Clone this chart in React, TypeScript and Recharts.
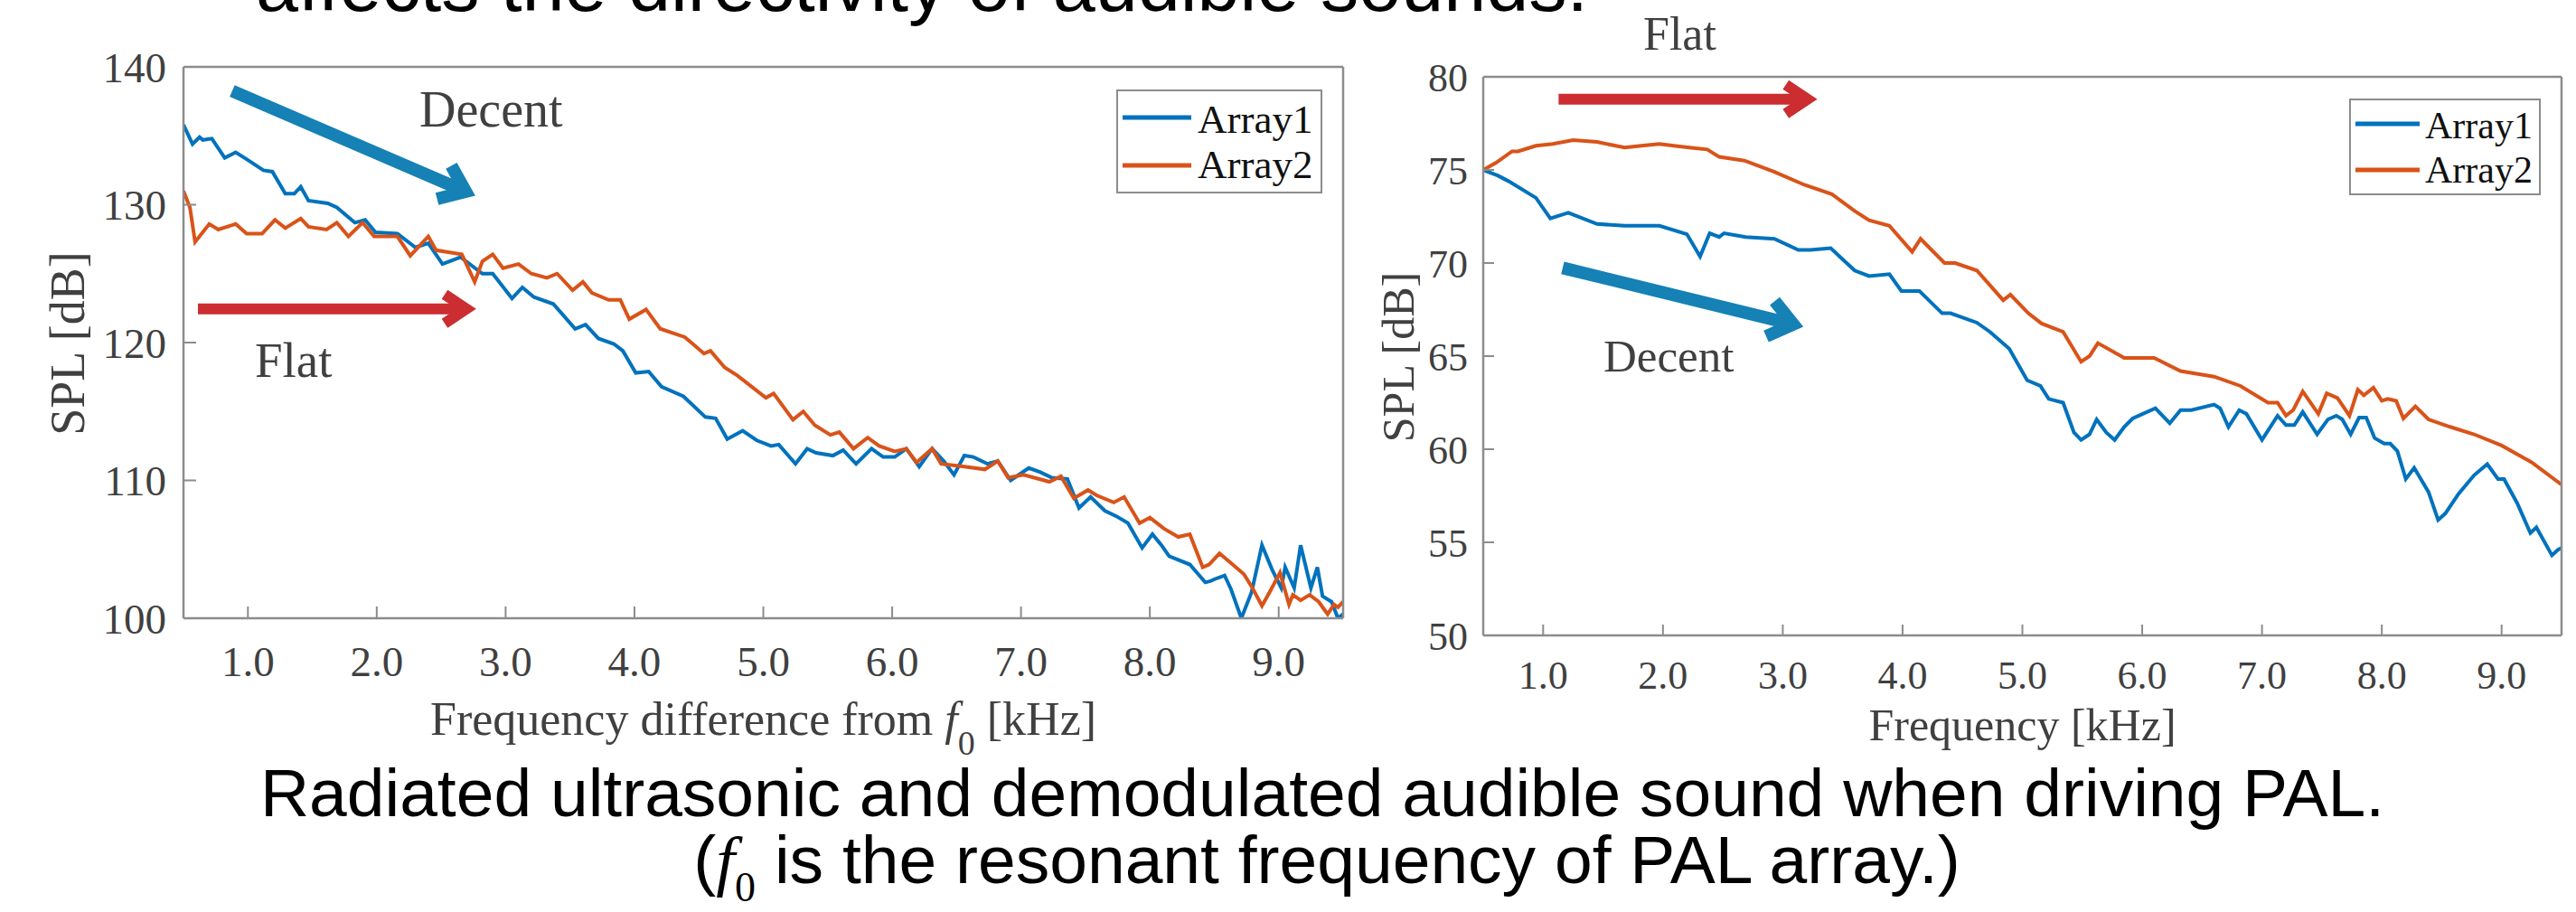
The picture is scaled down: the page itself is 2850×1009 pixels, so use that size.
import React from 'react';
import { LineChart, Line, XAxis, YAxis, ReferenceLine, Legend } from 'recharts';

// ---------- data ----------
const xTicks = [1, 2, 3, 4, 5, 6, 7, 8, 9];
const leftYTicks = [100, 110, 120, 130, 140];
const rightYTicks = [50, 55, 60, 65, 70, 75, 80];
const seriesNames = ['Array1', 'Array2'];

// Left panel: ultrasonic SPL vs frequency difference from f0
const leftArray1Freq = [0.5, 0.57, 0.625, 0.65, 0.72, 0.82, 0.905, 0.99, 1.12, 1.19, 1.29, 1.36, 1.41, 1.47, 1.62, 1.69, 1.83, 1.91, 1.99, 2.16, 2.3, 2.4, 2.51, 2.65, 2.82, 2.9, 3.05, 3.13, 3.22, 3.37, 3.54, 3.62, 3.72, 3.84, 3.91, 4.01, 4.11, 4.21, 4.38, 4.55, 4.63, 4.72, 4.84, 4.95, 5.06, 5.12, 5.25, 5.34, 5.41, 5.54, 5.62, 5.72, 5.84, 5.93, 6.02, 6.11, 6.21, 6.31, 6.4, 6.48, 6.56, 6.63, 6.74, 6.82, 6.92, 7.06, 7.15, 7.24, 7.36, 7.45, 7.54, 7.65, 7.74, 7.83, 7.94, 8.02, 8.09, 8.15, 8.31, 8.43, 8.47, 8.52, 8.58, 8.63, 8.71, 8.79, 8.87, 8.95, 9.02, 9.05, 9.12, 9.17, 9.25, 9.3, 9.34, 9.41, 9.46, 9.5];
const leftArray1SPL = [135.8, 134.4, 134.9, 134.7, 134.8, 133.4, 133.8, 133.3, 132.5, 132.4, 130.8, 130.8, 131.3, 130.3, 130.1, 129.8, 128.7, 128.9, 128.0, 127.9, 126.9, 127.2, 125.7, 126.2, 125.0, 125.0, 123.2, 124.0, 123.3, 122.8, 121.0, 121.3, 120.3, 119.9, 119.4, 117.8, 117.9, 116.8, 116.1, 114.6, 114.5, 113.0, 113.6, 112.9, 112.5, 112.6, 111.2, 112.3, 112.0, 111.8, 112.2, 111.2, 112.3, 111.7, 111.7, 112.3, 111.0, 112.3, 111.4, 110.4, 111.8, 111.7, 111.2, 111.4, 110.0, 110.9, 110.6, 110.2, 110.1, 108.0, 108.8, 107.8, 107.4, 106.9, 105.1, 106.1, 105.3, 104.5, 103.9, 102.6, 102.7, 102.9, 103.1, 102.1, 100.0, 101.9, 105.3, 103.5, 102.2, 103.7, 102.2, 105.3, 102.2, 103.7, 101.6, 101.2, 100.0, 100.3];
const leftArray2Freq = [0.5, 0.55, 0.59, 0.7, 0.77, 0.905, 0.99, 1.11, 1.21, 1.29, 1.41, 1.47, 1.61, 1.69, 1.78, 1.89, 1.98, 2.16, 2.26, 2.4, 2.46, 2.66, 2.76, 2.82, 2.9, 2.98, 3.1, 3.2, 3.32, 3.4, 3.52, 3.6, 3.67, 3.8, 3.89, 3.96, 4.09, 4.2, 4.39, 4.54, 4.59, 4.7, 4.8, 5.02, 5.08, 5.23, 5.31, 5.4, 5.52, 5.59, 5.7, 5.81, 5.9, 6.02, 6.11, 6.19, 6.31, 6.38, 6.56, 6.72, 6.82, 6.9, 7.02, 7.22, 7.31, 7.41, 7.52, 7.59, 7.72, 7.8, 7.92, 8.0, 8.11, 8.22, 8.31, 8.41, 8.46, 8.54, 8.63, 8.73, 8.79, 8.87, 8.93, 9.01, 9.08, 9.11, 9.17, 9.24, 9.31, 9.38, 9.43, 9.46, 9.5];
const leftArray2SPL = [131.0, 129.8, 127.3, 128.6, 128.2, 128.6, 127.9, 127.9, 128.9, 128.3, 129.0, 128.4, 128.2, 128.7, 127.7, 128.7, 127.7, 127.7, 126.3, 127.7, 126.7, 126.4, 124.4, 125.9, 126.4, 125.4, 125.7, 125.0, 124.7, 125.0, 123.8, 124.4, 123.6, 123.1, 123.1, 121.7, 122.4, 121.0, 120.4, 119.2, 119.4, 118.2, 117.6, 116.0, 116.3, 114.4, 115.0, 114.0, 113.3, 113.5, 112.3, 113.1, 112.5, 112.1, 112.3, 111.3, 112.3, 111.2, 111.0, 110.8, 111.4, 110.2, 110.4, 109.9, 110.3, 108.7, 109.3, 108.9, 108.4, 108.8, 106.9, 107.3, 106.5, 105.9, 106.1, 103.7, 103.9, 104.7, 104.0, 103.2, 102.3, 100.9, 101.9, 103.3, 101.0, 101.7, 101.3, 101.7, 101.2, 100.3, 101.0, 100.8, 101.2];

// Right panel: demodulated audible SPL vs frequency
const rightArray1Freq = [0.5, 0.62, 0.71, 0.94, 1.06, 1.21, 1.45, 1.68, 1.97, 2.2, 2.31, 2.39, 2.47, 2.51, 2.69, 2.93, 3.13, 3.23, 3.4, 3.6, 3.72, 3.89, 3.99, 4.14, 4.33, 4.4, 4.62, 4.73, 4.89, 5.04, 5.15, 5.22, 5.34, 5.43, 5.49, 5.56, 5.62, 5.7, 5.77, 5.85, 5.92, 6.11, 6.23, 6.32, 6.41, 6.6, 6.65, 6.72, 6.81, 6.87, 7.0, 7.13, 7.2, 7.27, 7.34, 7.46, 7.55, 7.62, 7.67, 7.74, 7.81, 7.87, 7.94, 8.02, 8.07, 8.13, 8.2, 8.27, 8.39, 8.47, 8.53, 8.64, 8.77, 8.88, 8.97, 9.02, 9.13, 9.24, 9.29, 9.42, 9.47, 9.5];
const rightArray1SPL = [75.0, 74.7, 74.4, 73.5, 72.4, 72.7, 72.1, 72.0, 72.0, 71.55, 70.35, 71.6, 71.4, 71.6, 71.4, 71.3, 70.7, 70.7, 70.8, 69.6, 69.3, 69.4, 68.5, 68.5, 67.3, 67.3, 66.8, 66.3, 65.4, 63.7, 63.4, 62.7, 62.5, 60.9, 60.5, 60.8, 61.6, 60.9, 60.5, 61.2, 61.65, 62.2, 61.4, 62.1, 62.1, 62.4, 62.2, 61.2, 62.1, 61.9, 60.5, 61.8, 61.3, 61.3, 62.0, 60.8, 61.6, 61.8, 61.6, 60.8, 61.7, 61.7, 60.6, 60.3, 60.3, 59.9, 58.4, 59.0, 57.7, 56.2, 56.55, 57.6, 58.6, 59.2, 58.4, 58.4, 57.1, 55.5, 55.8, 54.3, 54.6, 54.7];
const rightArray2Freq = [0.5, 0.61, 0.74, 0.79, 0.94, 1.08, 1.25, 1.45, 1.68, 1.82, 1.97, 2.09, 2.22, 2.37, 2.47, 2.68, 2.93, 3.18, 3.41, 3.6, 3.72, 3.89, 4.08, 4.15, 4.35, 4.44, 4.62, 4.84, 4.9, 5.05, 5.16, 5.34, 5.49, 5.56, 5.63, 5.85, 6.1, 6.32, 6.6, 6.82, 7.05, 7.13, 7.2, 7.26, 7.34, 7.47, 7.54, 7.63, 7.73, 7.8, 7.85, 7.93, 8.0, 8.05, 8.12, 8.18, 8.28, 8.39, 8.57, 8.77, 9.0, 9.25, 9.5];
const rightArray2SPL = [75.0, 75.4, 76.0, 76.0, 76.3, 76.4, 76.6, 76.5, 76.2, 76.3, 76.4, 76.3, 76.2, 76.1, 75.7, 75.5, 74.9, 74.2, 73.7, 72.8, 72.3, 72.0, 70.6, 71.3, 70.0, 70.0, 69.6, 68.0, 68.3, 67.3, 66.75, 66.3, 64.7, 65.0, 65.7, 64.9, 64.9, 64.2, 63.9, 63.4, 62.5, 62.5, 61.8, 62.1, 63.1, 61.9, 63.0, 62.75, 61.8, 63.2, 62.9, 63.3, 62.6, 62.7, 62.6, 61.65, 62.3, 61.6, 61.2, 60.8, 60.2, 59.3, 58.1];

// Annotation arrows (data coordinates: [freq, SPL] start -> tip)
const leftDecentArrow = [[0.878, 138.25], [2.763, 130.66]];
const leftFlatArrow = [[0.612, 122.44], [2.763, 122.44]];
const rightFlatArrow = [[1.129, 78.8], [3.279, 78.8]];
const rightDecentArrow = [[1.163, 69.74], [3.17, 66.58]];

// ---------- styling ----------
const BLUE = '#0072BD';
const ORANGE = '#D95319';
const ARROW_BLUE = '#1581B5';
const ARROW_RED = '#CB2D30';
const AXIS = '#8c8c8c';
const TXT = '#404040';
const SERIF = '"Liberation Serif", "Times New Roman", serif';
const SANS = '"Liberation Sans", Arial, sans-serif';

const zip = (f: number[], v: number[]) => f.map((x, i) => ({ f: x, spl: v[i] }));
const seg = (a: number[][]) => [{ x: a[0][0], y: a[0][1] }, { x: a[1][0], y: a[1][1] }];
const fmt = (v: number) => v.toFixed(1);

const makeArrow = (back: number, half: number) => (props: any) => {
  const { x1, y1, x2, y2, stroke, strokeWidth } = props;
  if ([x1, y1, x2, y2].some((n) => typeof n !== 'number' || isNaN(n))) return null;
  const dx = x2 - x1;
  const dy = y2 - y1;
  const len = Math.sqrt(dx * dx + dy * dy) || 1;
  const ux = dx / len;
  const uy = dy / len;
  const nx = -uy;
  const ny = ux;
  const ax = x2 - ux * strokeWidth * 0.8;
  const ay = y2 - uy * strokeWidth * 0.8;
  const bx = ax - ux * back;
  const by = ay - uy * back;
  return (
    <g>
      <line x1={x1} y1={y1} x2={ax - ux * 3} y2={ay - uy * 3} stroke={stroke} strokeWidth={strokeWidth} />
      <polyline
        points={`${bx + nx * half},${by + ny * half} ${ax},${ay} ${bx - nx * half},${by - ny * half}`}
        fill="none"
        stroke={stroke}
        strokeWidth={strokeWidth}
        strokeLinejoin="miter"
        strokeMiterlimit={10}
      />
    </g>
  );
};

type LegendCfg = { w: number; h: number; lx1: number; lx2: number; tx: number; rows: number[]; base: number[]; fs: number };
const makeLegend = (cfg: LegendCfg) => (props: any) => {
  const payload = props.payload || [];
  return (
    <svg width={cfg.w} height={cfg.h} style={{ display: 'block' }}>
      <rect x={1} y={1} width={cfg.w - 2} height={cfg.h - 2} fill="#ffffff" stroke={AXIS} strokeWidth={2} />
      {payload.map((p: any, i: number) => (
        <g key={i}>
          <line x1={cfg.lx1} x2={cfg.lx2} y1={cfg.rows[i]} y2={cfg.rows[i]} stroke={p.color} strokeWidth={5} />
          <text x={cfg.tx} y={cfg.base[i]} fontFamily={SERIF} fontSize={cfg.fs} fill="#111">
            {p.value}
          </text>
        </g>
      ))}
    </svg>
  );
};

function LeftChart() {
  return (
    <div style={{ position: 'absolute', left: 0, top: 0 }}>
      <LineChart width={1500} height={1009} margin={{ top: 73, right: 13, bottom: 225, left: 0 }}>
        <XAxis
          dataKey="f"
          type="number"
          domain={[0.5, 9.5]}
          ticks={xTicks}
          tickFormatter={fmt}
          allowDataOverflow
          height={100}
          tickSize={-13}
          tickMargin={44}
          axisLine={{ stroke: AXIS, strokeWidth: 2.5 }}
          tickLine={{ stroke: AXIS, strokeWidth: 2 }}
          tick={{ fill: TXT, fontSize: 47, fontFamily: SERIF }}
        />
        <XAxis
          xAxisId="top"
          orientation="top"
          dataKey="f"
          type="number"
          domain={[0.5, 9.5]}
          ticks={xTicks}
          allowDataOverflow
          height={1}
          tickSize={-13}
          tick={false}
          axisLine={{ stroke: AXIS, strokeWidth: 2.5 }}
          tickLine={{ stroke: AXIS, strokeWidth: 2 }}
        />
        <YAxis
          type="number"
          domain={[100, 140]}
          ticks={leftYTicks}
          allowDataOverflow
          width={203}
          tickSize={-14}
          tickMargin={33}
          axisLine={{ stroke: AXIS, strokeWidth: 2.5 }}
          tickLine={{ stroke: AXIS, strokeWidth: 2 }}
          tick={{ fill: TXT, fontSize: 47, fontFamily: SERIF }}
        />
        <YAxis
          yAxisId="right"
          orientation="right"
          type="number"
          domain={[100, 140]}
          ticks={leftYTicks}
          allowDataOverflow
          width={1}
          tickSize={-14}
          tick={false}
          axisLine={{ stroke: AXIS, strokeWidth: 2.5 }}
          tickLine={{ stroke: AXIS, strokeWidth: 2 }}
        />
        <Line data={zip(leftArray1Freq, leftArray1SPL)} dataKey="spl" name={seriesNames[0]} stroke={BLUE} strokeWidth={4} dot={false} activeDot={false} type="linear" isAnimationActive={false} />
        <Line data={zip(leftArray2Freq, leftArray2SPL)} dataKey="spl" name={seriesNames[1]} stroke={ORANGE} strokeWidth={4} dot={false} activeDot={false} type="linear" isAnimationActive={false} />
        <ReferenceLine segment={seg(leftDecentArrow)} stroke={ARROW_BLUE} strokeWidth={14} ifOverflow="visible" shape={makeArrow(26, 20)} />
        <ReferenceLine segment={seg(leftFlatArrow)} stroke={ARROW_RED} strokeWidth={12} ifOverflow="visible" shape={makeArrow(24, 16)} />
        <Legend
          layout="vertical"
          align="center"
          verticalAlign="middle"
          wrapperStyle={{ position: 'absolute', left: 1235, top: 99, width: 228, height: 115 }}
          content={makeLegend({ w: 228, h: 115, lx1: 7, lx2: 83, tx: 90, rows: [31, 84], base: [48, 98], fs: 45 })}
        />
      </LineChart>
    </div>
  );
}

function RightChart() {
  return (
    <div style={{ position: 'absolute', left: 1500, top: 0 }}>
      <LineChart width={1350} height={1009} margin={{ top: 84, right: 15, bottom: 206, left: 0 }}>
        <XAxis
          dataKey="f"
          type="number"
          domain={[0.5, 9.5]}
          ticks={xTicks}
          tickFormatter={fmt}
          allowDataOverflow
          height={100}
          tickSize={-12}
          tickMargin={40}
          axisLine={{ stroke: AXIS, strokeWidth: 2.5 }}
          tickLine={{ stroke: AXIS, strokeWidth: 2 }}
          tick={{ fill: TXT, fontSize: 44, fontFamily: SERIF }}
        />
        <XAxis
          xAxisId="top"
          orientation="top"
          dataKey="f"
          type="number"
          domain={[0.5, 9.5]}
          ticks={xTicks}
          allowDataOverflow
          height={1}
          tickSize={-12}
          tick={false}
          axisLine={{ stroke: AXIS, strokeWidth: 2.5 }}
          tickLine={{ stroke: AXIS, strokeWidth: 2 }}
        />
        <YAxis
          type="number"
          domain={[50, 80]}
          ticks={rightYTicks}
          allowDataOverflow
          width={141}
          tickSize={-12}
          tickMargin={29}
          axisLine={{ stroke: AXIS, strokeWidth: 2.5 }}
          tickLine={{ stroke: AXIS, strokeWidth: 2 }}
          tick={{ fill: TXT, fontSize: 44, fontFamily: SERIF }}
        />
        <YAxis
          yAxisId="right"
          orientation="right"
          type="number"
          domain={[50, 80]}
          ticks={rightYTicks}
          allowDataOverflow
          width={1}
          tickSize={-12}
          tick={false}
          axisLine={{ stroke: AXIS, strokeWidth: 2.5 }}
          tickLine={{ stroke: AXIS, strokeWidth: 2 }}
        />
        <Line data={zip(rightArray1Freq, rightArray1SPL)} dataKey="spl" name={seriesNames[0]} stroke={BLUE} strokeWidth={4} dot={false} activeDot={false} type="linear" isAnimationActive={false} />
        <Line data={zip(rightArray2Freq, rightArray2SPL)} dataKey="spl" name={seriesNames[1]} stroke={ORANGE} strokeWidth={4} dot={false} activeDot={false} type="linear" isAnimationActive={false} />
        <ReferenceLine segment={seg(rightFlatArrow)} stroke={ARROW_RED} strokeWidth={12} ifOverflow="visible" shape={makeArrow(24, 16)} />
        <ReferenceLine segment={seg(rightDecentArrow)} stroke={ARROW_BLUE} strokeWidth={14} ifOverflow="visible" shape={makeArrow(26, 20)} />
        <Legend
          layout="vertical"
          align="center"
          verticalAlign="middle"
          wrapperStyle={{ position: 'absolute', left: 1099, top: 109, width: 212, height: 107 }}
          content={makeLegend({ w: 212, h: 107, lx1: 7, lx2: 78, tx: 84, rows: [28, 79], base: [44, 93], fs: 42 })}
        />
      </LineChart>
    </div>
  );
}

function Overlay() {
  return (
    <svg width={2850} height={1009} style={{ position: 'absolute', left: 0, top: 0, pointerEvents: 'none' }}>
      {/* cut-off heading line from the slide */}
      <text x={283} y={12} fontFamily={SANS} fontSize={84} fill="#000" textLength={1474} lengthAdjust="spacingAndGlyphs">
        affects the directivity of audible sounds.
      </text>
      {/* left panel annotations */}
      <text x={464} y={140} fontFamily={SERIF} fontSize={56} fill={TXT}>Decent</text>
      <text x={282} y={417} fontFamily={SERIF} fontSize={55} fill={TXT}>Flat</text>
      {/* right panel annotations */}
      <text x={1818} y={55} fontFamily={SERIF} fontSize={52} fill={TXT}>Flat</text>
      <text x={1774} y={411} fontFamily={SERIF} fontSize={51} fill={TXT}>Decent</text>
      {/* axis titles */}
      <text x={844.5} y={812.5} textAnchor="middle" fontFamily={SERIF} fontSize={52} fill={TXT}>
        Frequency difference from <tspan fontStyle="italic">f</tspan>
        <tspan fontSize={38} dy={22}>0</tspan>
        <tspan dy={-22}> [kHz]</tspan>
      </text>
      <text x={2237.5} y={819} textAnchor="middle" fontFamily={SERIF} fontSize={50} fill={TXT}>Frequency [kHz]</text>
      <text transform="translate(93,380) rotate(-90)" textAnchor="middle" fontFamily={SERIF} fontSize={54} fill={TXT}>SPL [dB]</text>
      <text transform="translate(1564,395) rotate(-90)" textAnchor="middle" fontFamily={SERIF} fontSize={50} fill={TXT}>SPL [dB]</text>
      {/* caption */}
      <text x={1463} y={903} textAnchor="middle" fontFamily={SANS} fontSize={75} fill="#000">
        Radiated ultrasonic and demodulated audible sound when driving PAL.
      </text>
      <text x={1468} y={977} textAnchor="middle" fontFamily={SANS} fontSize={75} fill="#000">
        (<tspan fontFamily={SERIF} fontStyle="italic">f</tspan>
        <tspan fontFamily={SERIF} fontSize={46} dy={20}>0</tspan>
        <tspan dy={-20}> is the resonant frequency of PAL array.)</tspan>
      </text>
    </svg>
  );
}

export default function App() {
  return (
    <div style={{ position: 'absolute', left: 0, top: 0, width: 2850, height: 1009, background: '#ffffff', overflow: 'hidden' }}>
      <LeftChart />
      <RightChart />
      <Overlay />
    </div>
  );
}
